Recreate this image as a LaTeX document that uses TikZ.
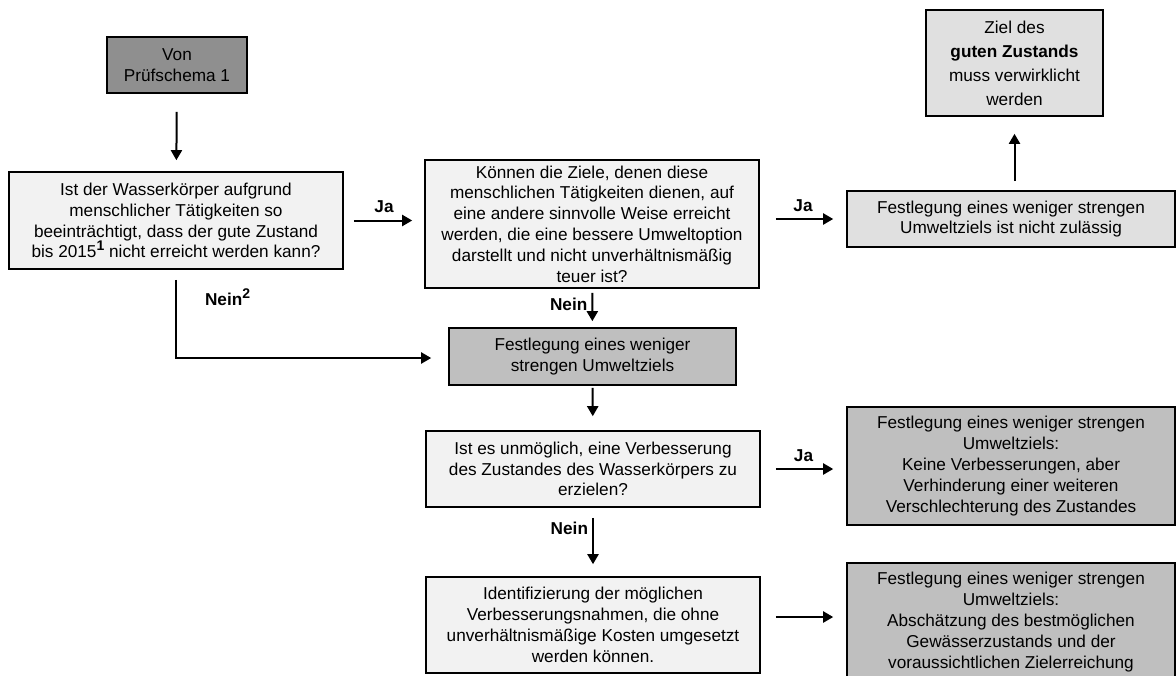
\documentclass[tikz,border=0pt]{standalone}
\usepackage{fontspec}
\setmainfont{Liberation Sans}
\usetikzlibrary{arrows.meta,calc,positioning}
\newcommand{\supnum}[1]{\raisebox{0.42em}{\fontsize{7}{7}\selectfont\bfseries #1}}

\begin{document}
\begin{tikzpicture}[x=0.5pt,y=-0.5pt,
    box/.style={draw,line width=0.8pt,align=center,inner sep=0pt,
      font=\fontsize{8.6}{10.4}\selectfont},
    arr/.style={-{Triangle[length=5pt,width=5.5pt]},line width=1pt},
    lbl/.style={font=\fontsize{8.6}{10.4}\selectfont\bfseries}]
      \useasboundingbox (0,0) rectangle (1176,675);
      \clip (0,0) rectangle (1176,675);

      % left column
      \node[box,fill=black!44,minimum width=70pt,minimum height=28pt] (von) at (177,65)
        {Von\\Prüfschema 1};
      \node[box,fill=black!5,minimum width=167pt,minimum height=48.5pt] (q1) at (176,220.5)
        {Ist der Wasserkörper aufgrund\\menschlicher Tätigkeiten so\\beeinträchtigt, dass der gute Zustand\\bis 2015\supnum{1} nicht erreicht werden kann?};

      % middle column
      \node[box,fill=black!5,minimum width=167pt,minimum height=64pt] (q2) at (592,224)
        {Können die Ziele, denen diese\\menschlichen Tätigkeiten dienen, auf\\eine andere sinnvolle Weise erreicht\\werden, die eine bessere Umweltoption\\darstellt und nicht unverhältnismäßig\\teuer ist?};
      \node[box,fill=black!25,minimum width=143.5pt,minimum height=28.5pt] (fest) at (592.5,356.5)
        {Festlegung eines weniger\\strengen Umweltziels};
      \node[box,fill=black!5,minimum width=167pt,minimum height=38pt] (q3) at (593,469)
        {Ist es unmöglich, eine Verbesserung\\des Zustandes des Wasserkörpers zu\\erzielen?};
      \node[box,fill=black!5,minimum width=167pt,minimum height=48pt] (q4) at (593,625)
        {Identifizierung der möglichen\\Verbesserungsnahmen, die ohne\\unverhältnismäßige Kosten umgesetzt\\werden können.};

      % right column
      \node[box,fill=black!12,minimum width=88.5pt,minimum height=53pt,
        font=\fontsize{8.6}{12}\selectfont] (ziel) at (1014.5,63)
        {Ziel des\\\textbf{guten Zustands}\\muss verwirklicht\\werden};
      \node[box,fill=black!12,minimum width=164pt,minimum height=28pt] (nz) at (1011,219)
        {Festlegung eines weniger strengen\\Umweltziels ist nicht zulässig};
      \node[box,fill=black!25,minimum width=164pt,minimum height=59pt] (r3) at (1011,466)
        {Festlegung eines weniger strengen\\Umweltziels:\\Keine Verbesserungen, aber\\Verhinderung einer weiteren\\Verschlechterung des Zustandes};
      \node[box,fill=black!25,minimum width=164pt,minimum height=59pt] (r4) at (1011,622)
        {Festlegung eines weniger strengen\\Umweltziels:\\Abschätzung des bestmöglichen\\Gewässerzustands und der\\voraussichtlichen Zielerreichung};

      % connectors
      \draw[arr,shorten <=9pt,shorten >=5.5pt] (von) -- (q1);
      \draw[arr,shorten <=5pt,shorten >=6pt] (q1.east) -- (q1.east -| q2.west)
        node[lbl,midway,above] {Ja};
      \draw[arr,shorten <=8pt,shorten >=6.5pt] (q2.east |- nz.west) -- (nz.west)
        node[lbl,midway,above] {Ja};
      \draw[arr,shorten <=4.5pt,shorten >=8.5pt] (nz.north -| ziel.south) -- (ziel.south);
      \draw[arr,shorten <=5pt,shorten >=8.5pt] (q1.south) |- ([yshift=-0.75pt]fest.west);
      \node[lbl,anchor=west] (nein1) at (198,297) {Nein\supnum{2}};
      \draw[arr,shorten <=2pt,shorten >=3pt] (q2) -- (fest)
        node[lbl,pos=0.4,left,inner sep=2pt] {Nein};
      \draw[arr,shorten <=1pt,shorten >=7pt] (fest) -- (q3);
      \draw[arr,shorten <=5pt,shorten >=6pt] (q3) -- (q4)
        node[lbl,pos=0.3,left,inner sep=2pt] {Nein};
      \draw[arr,shorten <=7.5pt,shorten >=6.5pt] (q3.east) -- (q3.east -| r3.west)
        node[lbl,midway,above] {Ja};
      \draw[arr,shorten <=7.5pt,shorten >=6.5pt] ([yshift=2.5pt]r4.west -| q4.east) -- ([yshift=2.5pt]r4.west);
\end{tikzpicture}
\end{document}
